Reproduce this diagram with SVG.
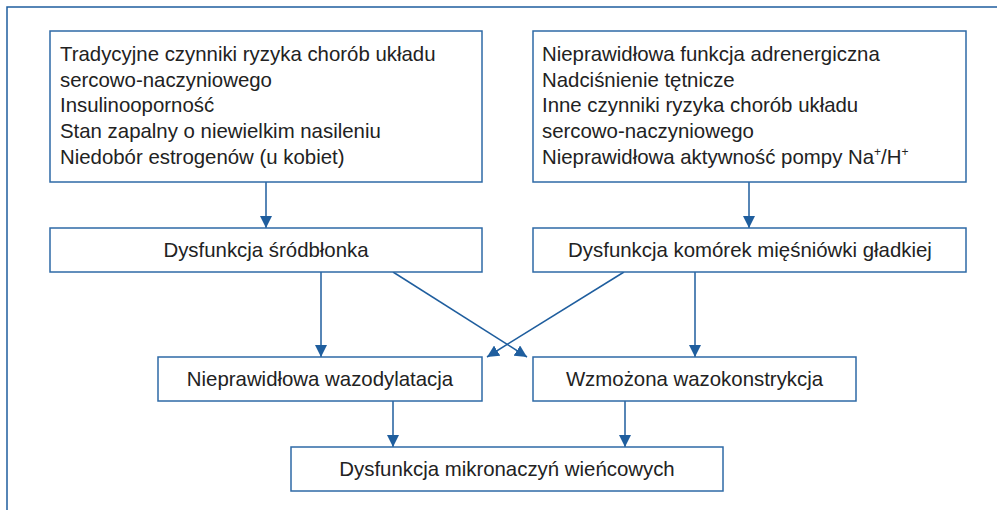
<svg xmlns="http://www.w3.org/2000/svg" width="997" height="510" viewBox="0 0 997 510">
<defs>
<style>
.box{fill:#fff;stroke:#2e6aa6;stroke-width:1.5}
.t{font-family:"Liberation Sans",Arial,sans-serif;font-size:20.4px;fill:#222}
.c{text-anchor:middle}
.ln{stroke:#1f5e9e;stroke-width:1.5;fill:none}
</style>
<marker id="ah" viewBox="0 0 12 12" refX="12" refY="6" markerWidth="12" markerHeight="12" markerUnits="userSpaceOnUse" orient="auto">
<path d="M0,0 L12,6 L0,12 Z" fill="#1f5e9e"/>
</marker>
</defs>
<rect width="997" height="510" fill="#fff"/>
<path d="M7,510 L7,7 L997,7" class="ln"/>
<g id="connectors">
<line class="ln" x1="266" y1="182" x2="266" y2="228" marker-end="url(#ah)"/>
<line class="ln" x1="749" y1="182" x2="749" y2="228" marker-end="url(#ah)"/>
<line class="ln" x1="321" y1="272" x2="321" y2="357" marker-end="url(#ah)"/>
<line class="ln" x1="695" y1="272" x2="695" y2="357" marker-end="url(#ah)"/>
<line class="ln" x1="393" y1="272" x2="527" y2="357" marker-end="url(#ah)"/>
<line class="ln" x1="624" y1="272" x2="487" y2="357" marker-end="url(#ah)"/>
<line class="ln" x1="393" y1="401" x2="393" y2="447" marker-end="url(#ah)"/>
<line class="ln" x1="625" y1="401" x2="625" y2="447" marker-end="url(#ah)"/>
</g>
<g id="n1">
<rect class="box" x="50" y="31" width="432" height="151"/>
<text class="t" x="60" y="61">Tradycyjne czynniki ryzyka chorób układu</text>
<text class="t" x="60" y="87">sercowo-naczyniowego</text>
<text class="t" x="60" y="112">Insulinooporność</text>
<text class="t" x="60" y="138">Stan zapalny o niewielkim nasileniu</text>
<text class="t" x="60" y="164">Niedobór estrogenów (u kobiet)</text>
</g>
<g id="n2">
<rect class="box" x="533" y="31" width="433" height="151"/>
<text class="t" x="542" y="61">Nieprawidłowa funkcja adrenergiczna</text>
<text class="t" x="542" y="87">Nadciśnienie tętnicze</text>
<text class="t" x="542" y="112">Inne czynniki ryzyka chorób układu</text>
<text class="t" x="542" y="138">sercowo-naczyniowego</text>
<text class="t" x="542" y="164">Nieprawidłowa aktywność pompy Na<tspan font-size="12" dy="-8">+</tspan><tspan dy="8">/H</tspan><tspan font-size="12" dy="-8">+</tspan></text>
</g>
<g id="n3">
<rect class="box" x="50" y="228" width="432" height="44"/>
<text class="t c" x="266" y="257">Dysfunkcja śródbłonka</text>
</g>
<g id="n4">
<rect class="box" x="533" y="228" width="433" height="44"/>
<text class="t c" x="750" y="257">Dysfunkcja komórek mięśniówki gładkiej</text>
</g>
<g id="n5">
<rect class="box" x="158" y="357" width="324" height="44"/>
<text class="t c" x="320" y="386">Nieprawidłowa wazodylatacja</text>
</g>
<g id="n6">
<rect class="box" x="533" y="357" width="323" height="44"/>
<text class="t c" x="694.5" y="386">Wzmożona wazokonstrykcja</text>
</g>
<g id="n7">
<rect class="box" x="291" y="447" width="432" height="44"/>
<text class="t c" x="507" y="476">Dysfunkcja mikronaczyń wieńcowych</text>
</g>
</svg>
